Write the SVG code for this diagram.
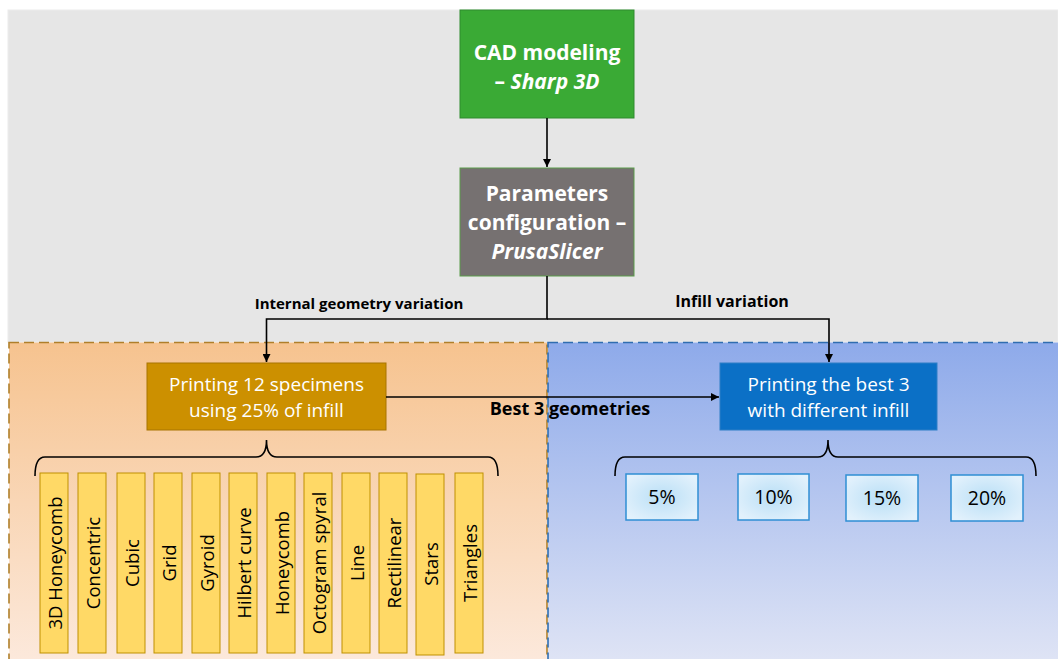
<svg xmlns="http://www.w3.org/2000/svg" width="1058" height="659" viewBox="0 0 1058 659">
<defs>
<linearGradient id="gOr" x1="0" y1="0" x2="0" y2="1">
<stop offset="0" stop-color="#f6c38f"/>
<stop offset="1" stop-color="#fce9dc"/>
</linearGradient>
<linearGradient id="gBl" x1="0" y1="0" x2="0" y2="1">
<stop offset="0" stop-color="#8eaaea"/>
<stop offset="1" stop-color="#dfe4f5"/>
</linearGradient>
<radialGradient id="gPc" cx="0.5" cy="0.5" r="0.6">
<stop offset="0" stop-color="#b9dff6"/>
<stop offset="1" stop-color="#e2f1fc"/>
</radialGradient>
<marker id="ah" viewBox="0 0 10 10" refX="10" refY="5" markerWidth="8" markerHeight="8" markerUnits="userSpaceOnUse" orient="auto">
<path d="M0,0 L10,5 L0,10 z" fill="#000"/>
</marker>
<style>
.bold{font-family:"Open Sans","Noto Sans",sans-serif;font-weight:bold}
.reg{font-family:"Open Sans","Noto Sans",sans-serif}
.head{font-size:21px;fill:#fff;text-anchor:middle}
.box{font-size:19px;fill:#fff;text-anchor:middle}
.lab{font-size:16px;fill:#000;text-anchor:middle}
.big{font-size:18px}
.mid{font-size:15px}
.bar{fill:#ffd966;stroke:#bf9000;stroke-width:1}
.bt{font-size:18.5px;fill:#000;text-anchor:middle;dominant-baseline:central}
.pc{fill:url(#gPc);stroke:#2f8ed4;stroke-width:1.5}
.pt{font-size:19.5px;fill:#000;text-anchor:middle}
.con{fill:none;stroke:#000;stroke-width:1.6}
.brace{fill:none;stroke:#000;stroke-width:1.6}
</style>
</defs>
<!-- backgrounds -->
<rect x="8" y="10" width="1050" height="332" fill="#e6e6e6" stroke="#ececec" stroke-width="1"/>
<rect x="9" y="342.5" width="538" height="320" fill="url(#gOr)" stroke="#b07f2a" stroke-width="1.6" stroke-dasharray="10,5"/>
<rect x="548" y="342.5" width="515" height="320" fill="url(#gBl)" stroke="#2f6db0" stroke-width="1.6" stroke-dasharray="10,5"/>

<g id="cad">
<rect x="460" y="10" width="174" height="108" fill="#3aaa35" stroke="#2e8b2e" stroke-width="1"/>
<text class="bold head" x="547" y="60">CAD modeling</text>
<text class="bold head" x="547" y="89">– <tspan font-style="italic">Sharp 3D</tspan></text>
</g>
<g id="params">
<rect x="460" y="168" width="174" height="108" fill="#767171" stroke="#5b9b4b" stroke-width="1"/>
<text class="bold head" x="547" y="201">Parameters</text>
<text class="bold head" x="547" y="230">configuration –</text>
<text class="bold head" x="547" y="259" font-style="italic">PrusaSlicer</text>
</g>
<g id="print12">
<rect x="147" y="363" width="239" height="67" fill="#cc9000" stroke="#a87400" stroke-width="1"/>
<text class="reg box" x="266.5" y="391">Printing 12 specimens</text>
<text class="reg box" x="266.5" y="417">using 25% of infill</text>
</g>
<g id="printbest">
<rect x="720" y="363" width="217" height="67" fill="#0b70c6" stroke="#2e7fc6" stroke-width="1"/>
<text class="reg box" x="828.5" y="391">Printing the best 3</text>
<text class="reg box" x="828.5" y="417">with different infill</text>
</g>

<g id="labels">
<text class="bold lab mid" x="359" y="309">Internal geometry variation</text>
<text class="bold lab" x="732" y="307">Infill variation</text>
<text class="bold lab big" x="570" y="415">Best 3 geometries</text>
</g>

<g id="connectors">
<line class="con" x1="547" y1="118" x2="547" y2="167" marker-end="url(#ah)"/>
<polyline class="con" points="547,276 547,319 266.5,319 266.5,362" marker-end="url(#ah)"/>
<polyline class="con" points="547,319 829,319 829,362" marker-end="url(#ah)"/>
<line class="con" x1="386" y1="397" x2="719" y2="397" marker-end="url(#ah)"/>
<path class="brace" d="M35,476 Q35,457 45,457 L256,457 Q266.5,457 266.5,440 Q266.5,457 277,457 L488,457 Q498,457 498,476"/>
<path class="brace" d="M615,476 Q615,457 625,457 L818,457 Q828,457 828,440 Q828,457 838,457 L1026,457 Q1036,457 1036,476"/>
</g>

<g id="geometries">
<g id="g1"><rect class="bar" x="40" y="473" width="28" height="180"/><text class="reg bt" transform="translate(54,563) rotate(-90)">3D Honeycomb</text></g>
<g id="g2"><rect class="bar" x="78" y="473" width="28" height="180"/><text class="reg bt" transform="translate(92,563) rotate(-90)">Concentric</text></g>
<g id="g3"><rect class="bar" x="117" y="473" width="28" height="180"/><text class="reg bt" transform="translate(131,563) rotate(-90)">Cubic</text></g>
<g id="g4"><rect class="bar" x="154" y="473" width="28" height="180"/><text class="reg bt" transform="translate(168,563) rotate(-90)">Grid</text></g>
<g id="g5"><rect class="bar" x="192" y="473" width="28" height="180"/><text class="reg bt" transform="translate(206,563) rotate(-90)">Gyroid</text></g>
<g id="g6"><rect class="bar" x="229" y="473" width="28" height="180"/><text class="reg bt" transform="translate(243,563) rotate(-90)">Hilbert curve</text></g>
<g id="g7"><rect class="bar" x="267" y="473" width="28" height="180"/><text class="reg bt" transform="translate(281,563) rotate(-90)">Honeycomb</text></g>
<g id="g8"><rect class="bar" x="304" y="473" width="28" height="180"/><text class="reg bt" transform="translate(318,563) rotate(-90)">Octogram spyral</text></g>
<g id="g9"><rect class="bar" x="342" y="473" width="28" height="180"/><text class="reg bt" transform="translate(356,563) rotate(-90)">Line</text></g>
<g id="g10"><rect class="bar" x="379" y="473" width="28" height="180"/><text class="reg bt" transform="translate(393,563) rotate(-90)">Rectilinear</text></g>
<g id="g11"><rect class="bar" x="416" y="474" width="28" height="181"/><text class="reg bt" transform="translate(430,564) rotate(-90)">Stars</text></g>
<g id="g12"><rect class="bar" x="455" y="473" width="28" height="180"/><text class="reg bt" transform="translate(469,563) rotate(-90)">Triangles</text></g>
</g>

<g id="infills">
<g id="p5"><rect class="pc" x="626" y="474" width="72" height="46"/><text class="reg pt" x="662" y="504">5%</text></g>
<g id="p10"><rect class="pc" x="738" y="474" width="71" height="46"/><text class="reg pt" x="773.5" y="504">10%</text></g>
<g id="p15"><rect class="pc" x="846" y="475" width="72" height="46"/><text class="reg pt" x="882" y="505">15%</text></g>
<g id="p20"><rect class="pc" x="951" y="475" width="72" height="46"/><text class="reg pt" x="987" y="505">20%</text></g>
</g>
</svg>
